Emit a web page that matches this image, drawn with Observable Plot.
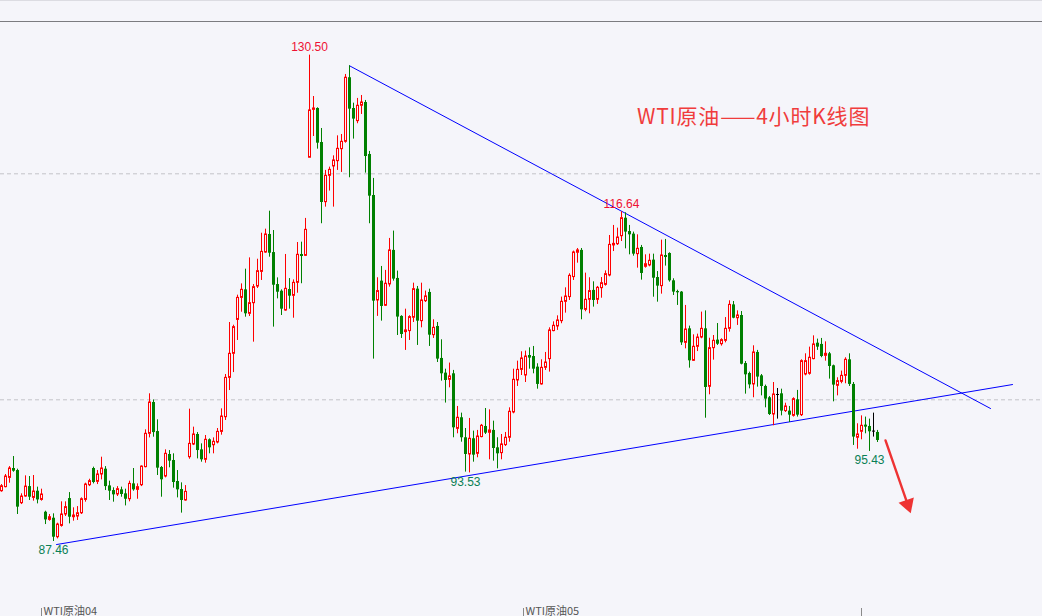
<!DOCTYPE html>
<html>
<head>
<meta charset="utf-8">
<script src="https://cdn.jsdelivr.net/npm/d3@7"></script>
<script src="https://cdn.jsdelivr.net/npm/@observablehq/plot@0.6"></script>
<style>
  html, body { margin: 0; padding: 0; overflow: hidden; background: #F5F5FA; }
  #wrap { position: relative; width: 1042px; height: 616px; overflow: hidden; background: #F5F5FA; }
  #wrap svg { display: block; overflow: hidden; }
  .topline1 { position: absolute; left: 0; top: 0; width: 1042px; height: 1px; background: #DCDCE2; }
  .topline2 { position: absolute; left: 0; top: 21px; width: 1042px; height: 1px; background: #7C7C80; }
  .title { position: absolute; left: 637px; top: 100px; font-family: "Noto Sans CJK SC", "Noto Sans", sans-serif; font-size: 21px; color: #F03C3C; white-space: nowrap; letter-spacing: 0.8px; }
</style>
</head>
<body>
<div id="wrap"></div>
<script>
// WTI crude oil, 4-hour candles
const open = [91.91,92.27,93.09,93.92,93.74,90.85,91.44,92.32,91.32,91.91,91.14,90.05,89.37,89.52,87.84,88.84,89.85,91.26,89.61,89.67,
89.96,91.14,92.44,93.92,92.74,93.39,93.86,92.38,91.97,91.62,92.03,91.68,91.20,92.56,92.03,92.44,94.04,96.99,99.76,97.19,
94.01,93.21,95.16,94.63,92.77,92.06,91.09,94.92,96.04,96.93,95.57,94.69,96.46,95.98,96.22,97.16,98.46,101.94,104.07,107.07,
109.02,109.73,107.61,108.55,110.02,111.32,113.03,114.63,113.03,110.20,109.61,107.90,109.76,109.20,110.35,112.86,112.74,121.42,125.66,125.78,
122.77,117.49,119.82,120.65,121.12,122.18,122.83,128.50,125.78,124.66,126.02,126.31,121.71,118.08,108.79,110.50,108.32,110.21,113.22,110.74,
107.38,105.99,106.08,107.26,109.79,106.96,108.73,109.50,105.72,106.49,103.66,102.36,101.77,102.30,97.43,98.41,96.64,95.16,96.55,95.22,
96.70,97.64,97.08,97.29,95.75,95.28,95.99,96.64,98.88,101.71,102.65,102.15,103.92,103.83,102.89,101.36,102.83,103.60,106.08,106.49,
106.96,108.67,109.09,110.86,113.01,113.22,107.96,108.85,109.68,108.85,109.88,110.17,111.00,113.66,113.77,114.48,116.07,114.89,114.66,112.89,
113.48,111.77,111.89,112.36,110.82,110.06,112.77,112.95,110.53,109.58,109.53,105.04,106.28,103.45,104.69,105.51,106.28,101.15,104.57,105.28,
104.92,105.22,106.28,108.40,107.22,107.46,103.21,102.33,101.36,104.19,102.12,101.18,100.18,98.70,100.47,100.53,99.00,99.00,98.58,100.00,
98.64,102.24,102.30,103.60,105.01,104.90,103.89,104.07,103.01,101.24,101.59,102.12,103.54,101.36,96.64,97.17,97.76,97.64,97.23,97.11];
const high = [92.50,93.39,94.09,94.98,93.86,91.68,93.27,93.21,93.30,92.27,92.09,90.14,89.85,89.91,89.08,90.97,90.97,91.79,90.44,90.55,
91.32,92.62,92.97,94.04,93.74,94.92,94.09,92.80,92.21,92.32,92.27,92.09,92.80,93.92,92.56,94.15,97.34,100.53,99.99,98.23,
94.10,95.57,95.51,95.22,93.74,92.65,92.41,99.17,97.58,97.10,96.10,96.84,96.54,96.63,97.46,99.20,102.24,106.84,106.60,109.26,
110.26,111.56,112.56,110.20,112.44,114.74,115.10,116.69,114.98,110.79,109.73,112.86,110.73,110.61,113.92,113.95,116.05,130.50,126.84,125.84,
124.01,120.30,120.59,121.59,123.36,123.48,128.79,129.56,126.25,126.67,126.93,126.49,121.98,119.59,110.80,111.80,111.45,114.28,114.93,111.39,
107.44,108.02,107.44,110.32,110.03,110.32,109.62,109.79,107.08,106.84,105.31,102.71,103.25,102.60,99.41,98.82,97.46,98.35,97.23,97.29,
97.82,99.23,99.11,98.11,96.64,96.93,97.11,99.29,102.71,103.42,104.25,104.31,104.60,104.72,103.19,103.54,104.19,106.37,106.90,107.43,
109.09,109.91,111.15,113.16,113.39,113.39,111.21,110.80,110.44,110.03,110.82,111.41,114.54,115.43,115.19,116.64,116.55,115.43,114.84,114.60,
113.66,112.83,112.89,112.89,111.35,114.13,114.19,113.01,110.71,109.70,109.58,108.35,106.52,105.75,105.81,107.76,107.87,105.45,105.69,106.75,
105.40,107.28,108.76,108.70,107.87,107.81,103.39,102.45,104.78,104.37,102.24,101.30,100.29,101.53,101.00,100.94,99.70,99.41,100.18,100.83,
103.54,104.07,104.66,105.66,105.37,105.43,105.13,104.19,103.07,101.95,102.54,103.72,104.07,101.53,97.88,98.58,98.47,98.29,98.82,97.29];
const low = [91.82,92.21,92.62,93.59,89.85,90.73,91.38,91.09,91.03,90.79,91.03,88.96,89.26,87.46,87.69,88.73,89.67,89.02,89.26,89.32,
89.85,90.94,92.32,92.56,92.50,92.91,91.97,91.09,90.94,91.44,91.38,90.61,90.97,91.91,91.20,92.32,93.98,96.63,96.69,93.30,
91.38,93.09,93.98,92.18,91.32,89.97,91.03,94.74,95.95,94.77,94.48,94.39,95.22,95.22,96.10,96.87,98.17,100.82,102.41,105.25,
107.75,107.31,107.37,105.10,109.85,110.56,112.97,112.62,106.43,108.93,107.46,107.84,108.02,107.22,109.43,110.27,112.68,121.42,123.30,122.18,
115.58,117.05,118.47,117.05,120.30,120.12,122.71,119.65,123.07,124.43,125.25,120.06,115.58,103.60,107.38,106.96,108.26,109.97,110.50,105.69,
105.43,104.37,105.25,106.84,104.81,106.37,108.61,104.72,105.43,103.30,101.65,99.71,101.06,96.64,96.99,96.25,93.60,93.53,94.48,94.87,
96.64,96.93,94.69,94.57,93.89,94.69,95.87,96.25,98.76,101.18,102.15,101.53,102.71,102.30,100.94,101.30,102.60,102.45,106.02,106.14,
106.73,107.67,108.79,110.56,112.09,107.08,107.79,107.61,108.20,108.44,108.99,110.06,110.88,113.12,113.66,114.01,113.36,112.83,112.71,111.65,
110.59,111.65,111.77,109.08,108.64,109.35,111.83,110.41,109.23,108.35,104.81,104.51,102.80,103.39,104.27,105.40,98.37,100.44,103.51,104.81,
104.75,105.04,105.99,107.17,106.58,103.09,100.50,100.97,100.18,101.12,100.35,99.29,98.61,97.70,98.29,98.58,98.88,97.99,98.47,98.47,
98.52,102.12,102.18,103.54,104.37,103.72,103.42,101.83,99.82,100.35,101.42,101.42,101.18,95.96,95.63,96.46,96.99,95.43,96.70,96.22];
const close = [92.35,93.21,93.92,93.68,90.50,91.44,92.32,91.38,91.88,91.14,91.62,89.37,89.61,87.84,88.96,89.85,90.50,89.61,89.76,89.96,
91.20,92.50,92.80,92.68,93.39,93.92,92.32,91.91,91.59,92.09,91.62,91.20,92.56,92.03,92.27,94.09,96.99,99.76,97.10,93.95,
92.92,95.22,94.57,92.68,92.03,91.09,91.85,96.10,96.93,95.51,94.69,96.46,95.75,96.28,97.16,98.52,101.94,104.07,106.43,109.02,
109.73,107.61,108.55,109.97,111.38,113.09,114.63,112.97,110.14,109.52,108.02,109.82,109.17,110.35,112.83,112.68,115.04,125.61,125.78,122.71,
117.46,119.82,120.35,121.18,122.21,122.83,128.50,125.72,124.84,126.02,126.31,121.53,118.02,108.73,109.62,108.26,110.27,113.22,110.68,107.32,
105.78,106.14,107.32,109.79,106.96,108.79,109.15,105.72,106.37,103.60,102.30,101.71,102.07,97.52,98.41,96.64,95.16,96.55,95.10,96.75,
97.70,97.05,97.29,95.69,95.22,96.05,96.64,98.94,101.77,102.65,103.66,103.83,103.69,102.71,101.36,102.83,103.30,106.14,106.55,107.02,
108.67,109.14,110.97,113.04,113.22,107.96,108.85,109.62,108.79,109.91,110.32,111.12,113.71,113.80,114.36,116.07,114.84,114.60,112.89,113.36,
111.18,112.00,112.30,110.76,110.06,112.77,112.59,110.53,109.53,109.47,105.04,106.22,103.45,104.69,105.51,106.28,101.09,104.57,105.22,104.92,
105.28,106.28,108.40,107.22,107.46,103.15,102.21,101.32,104.19,102.01,101.18,100.06,98.70,100.47,100.47,99.00,99.41,98.64,100.06,98.64,
103.42,103.42,103.72,104.90,104.66,103.83,104.07,102.95,101.30,101.65,102.12,103.54,101.36,96.70,96.93,97.70,97.58,97.17,97.23,96.40];

// labelled extremes: candle index, price, text, kind
const markIdx = [13, 77, 116, 155, 217];
const markPrice = [87.46, 130.50, 93.53, 116.64, 95.43];
const markText = ["87.46", "130.50", "93.53", "116.64", "95.43"];
const markKind = ["low", "high", "low", "high", "low"];

// trend lines (candle index, price)
const upperLineIdx = [87, 247.25];
const upperLinePrice = [129.56, 99.23];
const lowerLineIdx = [13.75, 252.75];
const lowerLinePrice = [87.19, 101.35];

// down arrow
const arrowIdx = [221, 226.2];
const arrowPrice = [96.4, 91.1];
const arrowHeadIdx = [226.55];
const arrowHeadPrice = [90.73];

// grid and axis
const gridPrices = [100, 120];
const axisLabelIdx = [10, 130.5];
const axisLabelText = ["WTI原油04", "WTI原油05"];
const axisTickIdx = [10, 130.5, 215];

const UP = "#FF0000", DOWN = "#008000", FLAT = "#000000", BG = "#F5F5FA";

const candles = open.map((o, i) => ({
  i, o, h: high[i], l: low[i], c: close[i],
  kind: close[i] > o ? "up" : close[i] < o ? "down" : "flat"
}));
const colorOf = d => d.kind === "up" ? UP : d.kind === "down" ? DOWN : FLAT;
const ups = candles.filter(d => d.kind === "up");
const downs = candles.filter(d => d.kind === "down");
const flats = candles.filter(d => d.kind === "flat");

const marks = markIdx.map((i, k) => ({i, p: markPrice[k], t: markText[k], kind: markKind[k]}));
const upper = upperLineIdx.map((i, k) => ({i, p: upperLinePrice[k]}));
const lower = lowerLineIdx.map((i, k) => ({i, p: lowerLinePrice[k]}));
const arrow = arrowIdx.map((i, k) => ({i, p: arrowPrice[k]}));
const arrowHead = arrowHeadIdx.map((i, k) => ({i, p: arrowHeadPrice[k]}));
const axisLabels = axisLabelIdx.map((i, k) => ({i, t: axisLabelText[k]}));

const chart = Plot.plot({
  width: 1042,
  height: 616,
  margin: 0,
  x: {type: "linear", domain: [-0.25, 260.25], axis: null},
  y: {type: "linear", domain: [80.823, 135.336], axis: null},
  style: {background: BG, fontFamily: "'Liberation Sans', Arial, sans-serif"},
  marks: [
    Plot.ruleY(gridPrices, {stroke: "#C4C4C8", strokeDasharray: "4,3", strokeWidth: 1}),
    Plot.line(upper, {x: "i", y: "p", stroke: "#0000FF", strokeWidth: 1}),
    Plot.line(lower, {x: "i", y: "p", stroke: "#0000FF", strokeWidth: 1}),
    Plot.ruleX(candles, {x: "i", y1: "l", y2: "h", stroke: colorOf, strokeWidth: 1}),
    Plot.rect(downs, {x1: d => d.i - 0.25, x2: d => d.i + 0.5, y1: "o", y2: "c", fill: DOWN}),
    Plot.rect(ups, {x1: d => d.i - 0.125, x2: d => d.i + 0.375, y1: "o", y2: "c", fill: BG, stroke: UP, strokeWidth: 1}),
    Plot.ruleY(flats, {y: "c", x1: d => d.i - 0.25, x2: d => d.i + 0.5, stroke: FLAT}),
    Plot.text(marks.filter(d => d.kind === "high"), {x: "i", y: "p", text: "t", dy: -8, fill: "#EE1133", fontSize: 12}),
    Plot.text(marks.filter(d => d.kind === "low"), {x: "i", y: "p", text: "t", dy: 9, fill: "#0A7F55", fontSize: 12}),
    Plot.line(arrow, {x: "i", y: "p", stroke: "#EE3333", strokeWidth: 2.4}),
    Plot.dot(arrowHead, {x: "i", y: "p", symbol: "triangle", r: 6, fill: "#EE3333", rotate: 161}),
    Plot.ruleX(axisTickIdx, {x: d => d, insetTop: 608, stroke: "#8A8A8A"}),
    Plot.text(axisLabels, {x: "i", text: "t", frameAnchor: "bottom", lineAnchor: "bottom", textAnchor: "start", dx: 2, dy: -2, fill: "#555555", fontSize: 11, fontFamily: "'Noto Sans CJK SC', sans-serif"})
  ]
});

const wrap = document.getElementById("wrap");
wrap.appendChild(chart);
const l1 = document.createElement("div"); l1.className = "topline1"; wrap.appendChild(l1);
const l2 = document.createElement("div"); l2.className = "topline2"; wrap.appendChild(l2);
const title = document.createElement("div"); title.className = "title"; title.textContent = "WTI原油——4小时K线图"; wrap.appendChild(title);
</script>
</body>
</html>
